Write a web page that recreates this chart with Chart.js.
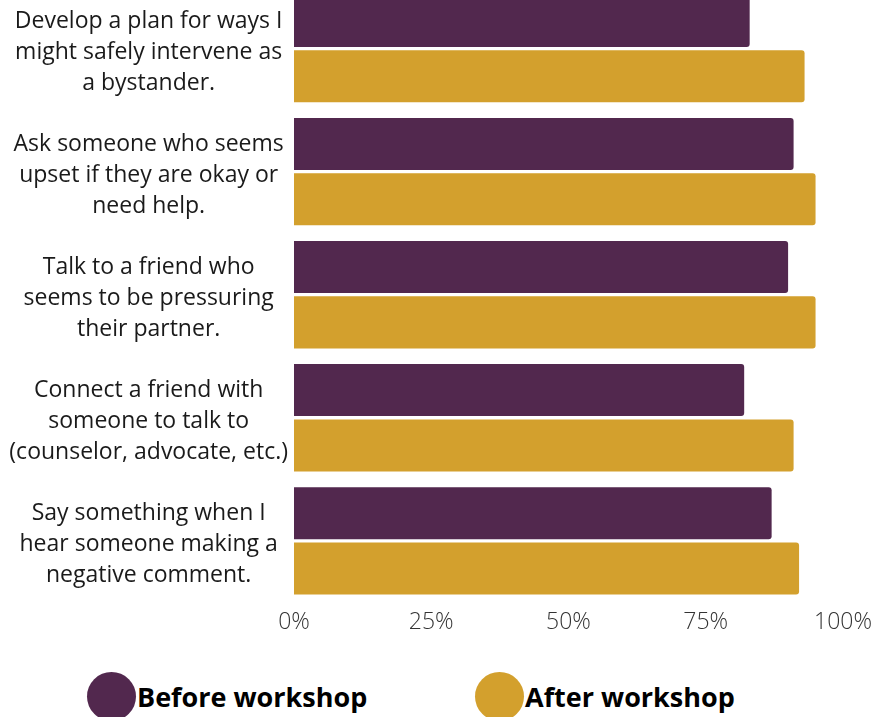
<!DOCTYPE html>
<html lang="en">
<head>
    <meta charset="UTF-8">
    <title>Bystander workshop results</title>
    <script src="https://cdn.jsdelivr.net/npm/chart.js"></script>
    <style>
        html, body { margin: 0; padding: 0; background: #fff; overflow: hidden; }
        body { width: 874px; height: 717px; position: relative; font-family: 'Open Sans', sans-serif; }
        .chart-box { position: absolute; left: 0; top: -13px; width: 874px; height: 655px; }
        .legend-item { position: absolute; top: 672px; display: flex; align-items: center; height: 48px; }
        .legend-dot { width: 49px; height: 49px; border-radius: 50%; margin-right: 1px; }
        .legend-text { font-weight: 700; font-size: 27px; color: #000; line-height: 48px; margin-top: 2px; }
    </style>
</head>
<body>
    <div class="chart-box">
        <canvas id="chart"></canvas>
    </div>
    <div class="legend-item" style="left: 87px;">
        <div class="legend-dot" style="background:#52284E"></div>
        <span class="legend-text">Before workshop</span>
    </div>
    <div class="legend-item" style="left: 475px;">
        <div class="legend-dot" style="background:#D3A02D"></div>
        <span class="legend-text">After workshop</span>
    </div>

    <script>
        // Statements (split into lines as in the original)
        const categories = [
            ['Develop a plan for ways I', 'might safely intervene as', 'a bystander.'],
            ['Ask someone who seems', 'upset if they are okay or', 'need help.'],
            ['Talk to a friend who', 'seems to be pressuring', 'their partner.'],
            ['Connect a friend with', 'someone to talk to', '(counselor, advocate, etc.)'],
            ['Say something when I', 'hear someone making a', 'negative comment.']
        ];
        const seriesNames = ['Before workshop', 'After workshop'];
        const beforeValues = [83, 91, 90, 82, 87];
        const afterValues = [93, 95, 95, 91, 92];
        const xTicks = [0, 25, 50, 75, 100];

        const purple = '#52284E';
        const gold = '#D3A02D';

        function draw() {
            const ctx = document.getElementById('chart').getContext('2d');
            new Chart(ctx, {
                type: 'bar',
                data: {
                    labels: categories,
                    datasets: [
                        { label: seriesNames[0], data: beforeValues, backgroundColor: purple, borderRadius: 3, borderSkipped: 'start' },
                        { label: seriesNames[1], data: afterValues, backgroundColor: gold, borderRadius: 3, borderSkipped: 'start' }
                    ]
                },
                options: {
                    indexAxis: 'y',
                    responsive: true,
                    maintainAspectRatio: false,
                    animation: false,
                    categoryPercentage: 0.9,
                    barPercentage: 0.94,
                    layout: { padding: 0 },
                    plugins: {
                        legend: { display: false },
                        tooltip: { enabled: false }
                    },
                    scales: {
                        x: {
                            min: 0,
                            max: 100,
                            afterBuildTicks: (axis) => { axis.ticks = xTicks.map(v => ({ value: v })); },
                            afterFit: (axis) => { axis.paddingRight = 31; },
                            grid: { display: false, drawTicks: false },
                            border: { display: false },
                            ticks: {
                                padding: 6,
                                color: '#333',
                                font: { family: 'Open Sans', size: 23, weight: '300' },
                                callback: (v) => v + '%'
                            }
                        },
                        y: {
                            grid: { display: false, drawTicks: false },
                            border: { display: false },
                            afterFit: (axis) => {
                                axis.width = 294;
                                axis.paddingTop = 0;
                                axis.paddingBottom = 0;
                            },
                            ticks: {
                                crossAlign: 'center',
                                padding: 6,
                                labelOffset: 4,
                                color: '#1a1a1a',
                                font: { family: 'Open Sans', size: 23, lineHeight: 1.35 }
                            }
                        }
                    }
                }
            });
        }

        if (document.fonts && document.fonts.load) {
            Promise.all([
                document.fonts.load('23px "Open Sans"'),
                document.fonts.load('300 23px "Open Sans"'),
                document.fonts.load('bold 27px "Open Sans"')
            ]).then(draw, draw);
        } else {
            draw();
        }
    </script>
</body>
</html>
